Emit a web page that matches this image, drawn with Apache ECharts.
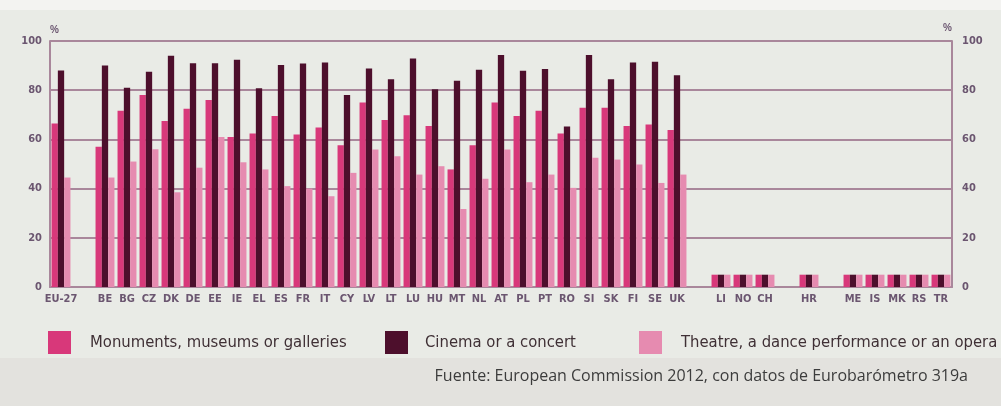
<!DOCTYPE html>
<html>
<head>
<meta charset="utf-8">
<script src="https://cdn.jsdelivr.net/npm/echarts@6/dist/echarts.min.js"></script>
<style>
  html, body { margin: 0; padding: 0; background: #e3e2de; }
  #chart { width: 1001px; height: 406px; }
</style>
</head>
<body>
<div id="chart"></div>
<script>
// countries (empty strings are the gaps between groups)
const countries = ["EU-27", "", "BE", "BG", "CZ", "DK", "DE", "EE", "IE", "EL", "ES", "FR", "IT", "CY", "LV", "LT", "LU", "HU", "MT", "NL", "AT", "PL", "PT", "RO", "SI", "SK", "FI", "SE", "UK", "", "LI", "NO", "CH", "", "HR", "", "ME", "IS", "MK", "RS", "TR"];

// % values ("-" = no bar)
const monuments = [66.5, "-", 57, 71.6, 78, 67.5, 72.5, 76, 61, 62.4, 69.5, 62, 64.8, 57.6, 75, 67.9, 69.8, 65.4, 47.8, 57.6, 75, 69.5, 71.6, 62.4, 72.9, 72.9, 65.4, 66.1, 63.8, "-", 5, 5, 5, "-", 5, "-", 5, 5, 5, 5, 5];
const cinema = [88, "-", 90, 81, 87.5, 94, 91, 91, 92.4, 80.8, 90.2, 90.9, 91.3, 78, 88.8, 84.5, 92.9, 80.4, 83.8, 88.3, 94.3, 87.9, 88.6, 65.2, 94.3, 84.5, 91.3, 91.6, 86.1, "-", 5, 5, 5, "-", 5, "-", 5, 5, 5, 5, 5];
const theatre = [44.5, "-", 44.5, 51, 56, 38.5, 48.5, 61, 50.7, 47.8, 41, 40, 36.9, 46.4, 55.9, 53.2, 45.7, 49.1, 31.7, 44, 55.9, 42.6, 45.7, 40.3, 52.5, 51.8, 49.8, 42.3, 45.7, "-", 5, 5, 5, "-", 5, "-", 5, 5, 5, 5, 5];

const seriesNames = ["Monuments, museums or galleries", "Cinema or a concert", "Theatre, a dance performance or an opera"];
const colors = ["#d8387a", "#4d0f2c", "#e68bb0"];
const source = "Fuente: European Commission 2012, con datos de Eurobarómetro 319a";

const chart = echarts.init(document.getElementById("chart"));

const narrow = "'DejaVu Sans Condensed', 'Liberation Sans', sans-serif";
const axisLabel = { color: "#6b5670", fontSize: 11, fontFamily: narrow, fontWeight: "bold" };
const lineColor = "#a9879b";

function legend(name, left, textLeft) {
  return {
    data: [{ name: name, icon: "rect" }], left: left, top: 326, itemWidth: 23, itemHeight: 23, itemGap: 0,
    textStyle: { color: "#3f3035", fontSize: 16.5, fontFamily: narrow, padding: [0, 0, 0, textLeft] },
    selectedMode: false
  };
}

chart.setOption({
  backgroundColor: "#e3e2de",
  animation: false,
  graphic: [
    { type: "rect", shape: { x: 0, y: 0, width: 1001, height: 10 }, style: { fill: "#f3f3f1" }, z: -10 },
    { type: "rect", shape: { x: 0, y: 10, width: 1001, height: 348 }, style: { fill: "#e9ebe6" }, z: -10 },
    { type: "text", right: 33, top: 368, style: { text: source, fill: "#3c3c3c", fontSize: 16, fontFamily: "Open Sans" } }
  ],
  legend: [
    legend(seriesNames[0], 43, 14),
    legend(seriesNames[1], 380, 12),
    legend(seriesNames[2], 634, 14)
  ],
  grid: { left: 50, right: 49, top: 41, bottom: 119 },
  xAxis: {
    type: "category",
    data: countries,
    axisTick: { show: false },
    axisLine: { lineStyle: { color: lineColor, width: 2 } },
    axisLabel: Object.assign({ interval: 0, margin: 7 }, axisLabel)
  },
  yAxis: [
    {
      type: "value", min: 0, max: 100, interval: 20,
      name: "%", nameGap: 6,
      nameTextStyle: { color: "#6b5670", fontSize: 10, fontWeight: "bold", align: "left", padding: [0, 0, 0, 0] },
      axisLine: { show: true, lineStyle: { color: lineColor, width: 2 } },
      axisTick: { show: false },
      splitLine: { lineStyle: { color: lineColor, width: 2 } },
      axisLabel: Object.assign({ margin: 8 }, axisLabel)
    },
    {
      type: "value", min: 0, max: 100, interval: 20, position: "right",
      name: "%", nameGap: 8,
      nameTextStyle: { color: "#6b5670", fontSize: 10, fontWeight: "bold", align: "right", padding: [0, 0, 0, 0] },
      axisLine: { show: true, lineStyle: { color: lineColor, width: 2 } },
      axisTick: { show: false },
      splitLine: { show: false },
      axisLabel: Object.assign({ margin: 10 }, axisLabel)
    }
  ],
  series: [
    { name: seriesNames[0], type: "bar", data: monuments, itemStyle: { color: colors[0] }, barGap: "0%", barCategoryGap: "14%" },
    { name: seriesNames[1], type: "bar", data: cinema, itemStyle: { color: colors[1] } },
    { name: seriesNames[2], type: "bar", data: theatre, itemStyle: { color: colors[2] } }
  ]
});
</script>
</body>
</html>
